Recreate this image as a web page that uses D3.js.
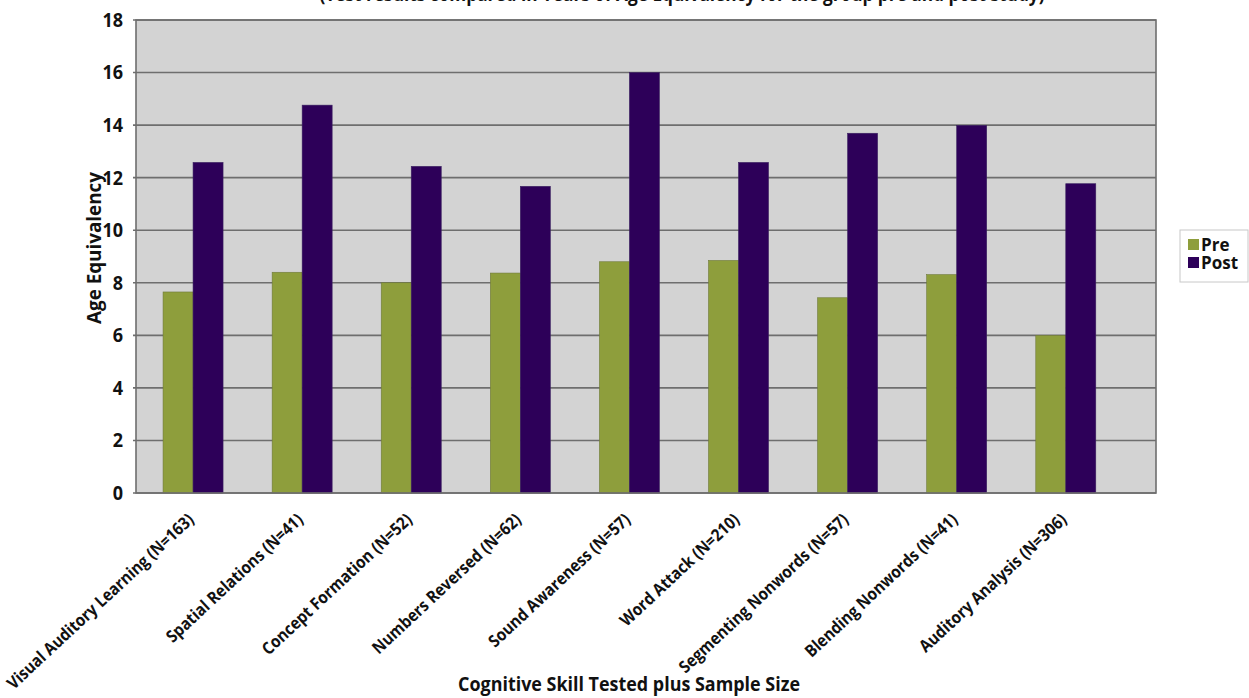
<!DOCTYPE html>
<html>
<head>
<meta charset="utf-8">
<script src="https://cdn.jsdelivr.net/npm/d3@7"></script>
<style>
  html, body { margin: 0; padding: 0; background: #fff; }
  svg { display: block; }
  text { font-family: "Open Sans", "Noto Sans", sans-serif; font-weight: bold; fill: #111; }
</style>
</head>
<body>
<svg id="chart" width="1249" height="698"></svg>
<script>
// Skills tested, with sample sizes
const categories = [
  "Visual Auditory Learning (N=163)",
  "Spatial Relations (N=41)",
  "Concept Formation (N=52)",
  "Numbers Reversed (N=62)",
  "Sound Awareness (N=57)",
  "Word Attack (N=210)",
  "Segmenting Nonwords (N=57)",
  "Blending Nonwords (N=41)",
  "Auditory Analysis (N=306)"
];
const seriesNames = ["Pre", "Post"];
const preValues  = [7.65, 8.4, 8.0, 8.37, 8.8, 8.85, 7.43, 8.31, 6.0];
const postValues = [12.58, 14.76, 12.43, 11.67, 16.0, 12.58, 13.69, 13.99, 11.77];
const yTicks = [0, 2, 4, 6, 8, 10, 12, 14, 16, 18];
const titleText = "(Test results compared in Years of Age Equivalency for the group pre and post study)";
const xTitle = "Cognitive Skill Tested plus Sample Size";
const yTitle = "Age Equivalency";

const colors = { Pre: "#8e9e3c", Post: "#2d0059" };

const rows = categories.map((c, i) => ({ category: c, Pre: preValues[i], Post: postValues[i] }));

const svg = d3.select("#chart");
const plot = { left: 136, right: 1156, top: 20, bottom: 493 };

// squeeze a text element horizontally to a given length (condensed look)
function fitLength(sel, len) {
  sel.attr("textLength", len).attr("lengthAdjust", "spacingAndGlyphs");
}
function condense(sel, factor) {
  sel.each(function () {
    const n = this.getComputedTextLength();
    d3.select(this).attr("textLength", n * factor).attr("lengthAdjust", "spacingAndGlyphs");
  });
}

const x = d3.scaleBand()
  .domain(categories)
  .range([plot.left, plot.right])
  .paddingInner(0.45)
  .paddingOuter(0.40)
  .align(0.31);

const xs = d3.scaleBand()
  .domain(seriesNames)
  .range([0, x.bandwidth()])
  .padding(0);

const y = d3.scaleLinear().domain([0, 18]).range([plot.bottom, plot.top]);

// heading, mostly above the top edge
svg.append("text")
  .attr("x", 682)
  .attr("y", 1)
  .attr("text-anchor", "middle")
  .style("font-size", "20px")
  .text(titleText)
  .call(fitLength, 725);

// plot background
svg.append("rect")
  .attr("x", plot.left).attr("y", plot.top)
  .attr("width", plot.right - plot.left).attr("height", plot.bottom - plot.top)
  .attr("fill", "#d3d3d3");

// gridlines
svg.append("g")
  .selectAll("line")
  .data(yTicks)
  .join("line")
  .attr("x1", plot.left - 3).attr("x2", plot.right)
  .attr("y1", d => y(d)).attr("y2", d => y(d))
  .attr("stroke", "#6e6e6e")
  .attr("stroke-width", 1.6);

// bars
const groups = svg.append("g")
  .selectAll("g")
  .data(rows)
  .join("g")
  .attr("transform", d => `translate(${x(d.category)},0)`);

groups.selectAll("rect")
  .data(d => seriesNames.map(s => ({ s, v: d[s] })))
  .join("rect")
  .attr("x", d => xs(d.s))
  .attr("y", d => y(d.v))
  .attr("width", xs.bandwidth())
  .attr("height", d => y(0) - y(d.v))
  .attr("fill", d => colors[d.s])
  .attr("stroke", d => d.s === "Pre" ? "#6f7a3a" : "#3a2060")
  .attr("stroke-width", 0.6);

// plot frame
svg.append("rect")
  .attr("x", plot.left).attr("y", plot.top)
  .attr("width", plot.right - plot.left).attr("height", plot.bottom - plot.top)
  .attr("fill", "none")
  .attr("stroke", "#6e6e6e")
  .attr("stroke-width", 1.6);

// y axis labels
const yAxis = d3.axisLeft(y).tickValues(yTicks).tickSize(0).tickPadding(13).tickFormat(d3.format("d"));
const gy = svg.append("g").attr("transform", `translate(${plot.left},0)`).call(yAxis);
gy.select(".domain").remove();
gy.selectAll("text")
  .attr("font-family", null)
  .style("font-size", "20px")
  .attr("fill", "#111")
  .call(condense, 0.9);

// x axis labels, rotated
const xAxis = d3.axisBottom(x).tickSize(0).tickPadding(0);
const gx = svg.append("g").attr("transform", `translate(0,${plot.bottom})`).call(xAxis);
gx.select(".domain").remove();
const xLabels = gx.selectAll("text")
  .attr("font-family", null)
  .style("font-size", "17px")
  .attr("fill", "#111")
  .attr("text-anchor", "end")
  .attr("dy", null)
  .attr("y", 0)
  .attr("x", 0)
  .attr("transform", "translate(2,28) rotate(-43)");
const firstLen = xLabels.node().getComputedTextLength();
xLabels.call(condense, 248 / firstLen);

// axis titles
svg.append("text")
  .attr("x", 629)
  .attr("y", 691)
  .attr("text-anchor", "middle")
  .style("font-size", "20px")
  .text(xTitle)
  .call(fitLength, 342);

svg.append("text")
  .attr("transform", "translate(101,248) rotate(-90)")
  .attr("text-anchor", "middle")
  .style("font-size", "20px")
  .text(yTitle)
  .call(fitLength, 152);

// legend
const legend = svg.append("g").attr("transform", "translate(1180,230)");
legend.append("rect")
  .attr("width", 68).attr("height", 52)
  .attr("fill", "#fff")
  .attr("stroke", "#c8c8c8");
const li = legend.selectAll("g.item")
  .data(seriesNames)
  .join("g")
  .attr("class", "item")
  .attr("transform", (d, i) => `translate(8,${9 + i * 18})`);
li.append("rect")
  .attr("width", 11).attr("height", 11)
  .attr("fill", d => colors[d]);
li.append("text")
  .attr("x", 13).attr("y", 12)
  .style("font-size", "17px")
  .text(d => d);
</script>
</body>
</html>
